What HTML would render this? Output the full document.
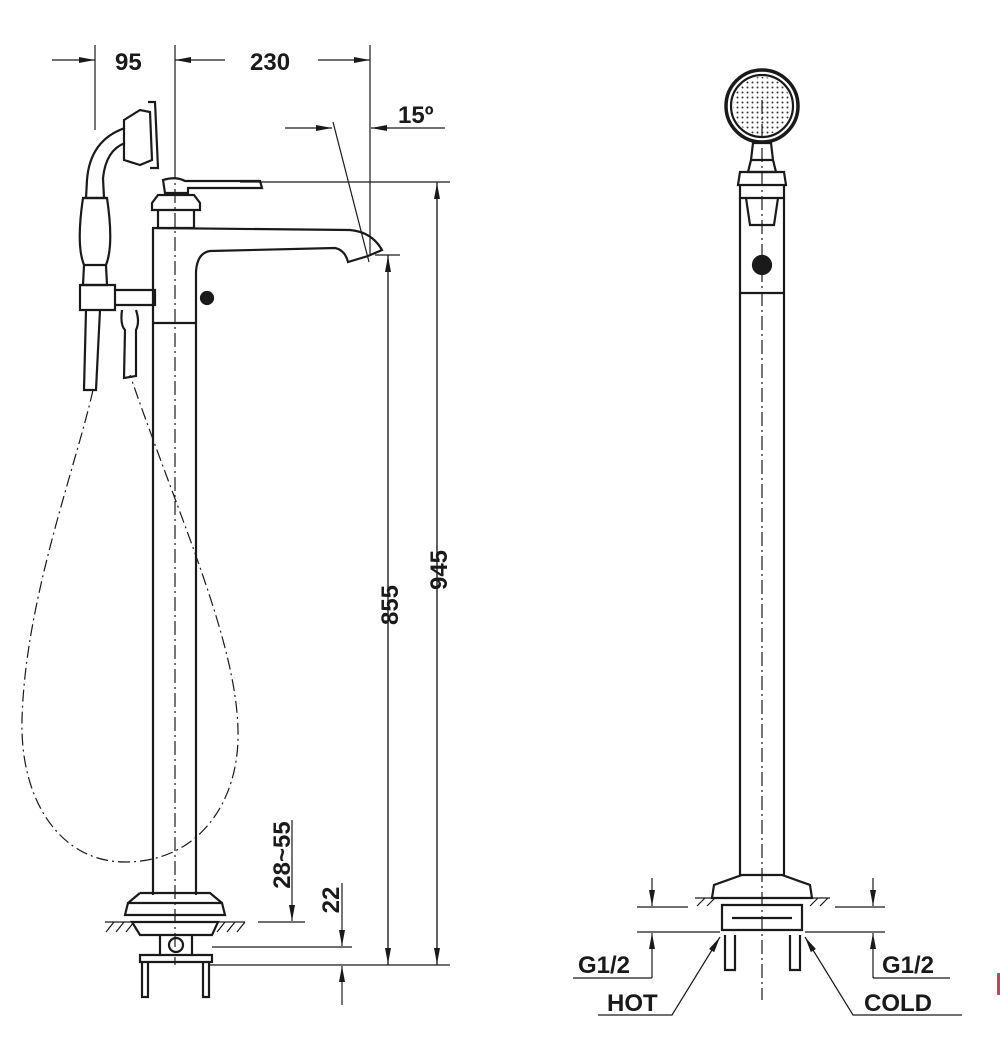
<!DOCTYPE html>
<html><head><meta charset="utf-8"><style>
html,body{margin:0;padding:0;background:#fff}
svg{display:block}
text{font-family:"Liberation Sans",Arial,sans-serif;font-weight:bold;fill:#1a1a1a}
</style></head><body>
<svg width="1000" height="1038" viewBox="0 0 1000 1038" xmlns="http://www.w3.org/2000/svg">
<defs>
<marker id="a" markerWidth="16" markerHeight="8" refX="16" refY="4" orient="auto" markerUnits="userSpaceOnUse"><path d="M0,1 L16,4 L0,7 Z" fill="#1a1a1a"/></marker>
<pattern id="dots" width="5" height="5" patternUnits="userSpaceOnUse"><circle cx="2.5" cy="2.5" r="1" fill="#333"/></pattern>
</defs>
<g stroke="#1a1a1a" fill="none" stroke-width="1.2">
<!-- top dims -->
<line x1="95" y1="45" x2="95" y2="130"/>
<line x1="175" y1="45" x2="175" y2="165"/>
<line x1="370" y1="45" x2="370" y2="255"/>
<line x1="52" y1="60" x2="95" y2="60" marker-end="url(#a)"/>
<line x1="225" y1="60" x2="175" y2="60" marker-end="url(#a)"/>
<line x1="318" y1="60" x2="370" y2="60" marker-end="url(#a)"/>
<line x1="285" y1="128" x2="332" y2="128" marker-end="url(#a)"/>
<line x1="445" y1="128" x2="371" y2="128" marker-end="url(#a)"/>
<line x1="333" y1="122" x2="369" y2="262"/>
<!-- centerline -->
<line x1="175" y1="165" x2="175" y2="965" stroke-dasharray="14,4,2,4"/>
<!-- right dims -->
<line x1="240" y1="182" x2="450" y2="182"/>
<line x1="375" y1="255" x2="400" y2="255"/>
<line x1="210" y1="965" x2="450" y2="965"/>
<line x1="437" y1="965" x2="437" y2="183" marker-end="url(#a)"/>
<line x1="437" y1="182" x2="437" y2="964" marker-end="url(#a)"/>
<line x1="388" y1="965" x2="388" y2="256" marker-end="url(#a)"/>
<line x1="388" y1="255" x2="388" y2="964" marker-end="url(#a)"/>
<line x1="292" y1="820" x2="292" y2="921" marker-end="url(#a)"/>
<line x1="258" y1="922" x2="305" y2="922"/>
<line x1="342" y1="883" x2="342" y2="946" marker-end="url(#a)"/>
<line x1="212" y1="947" x2="352" y2="947"/>
<line x1="342" y1="1005" x2="342" y2="966" marker-end="url(#a)"/>
<!-- faucet -->
<g stroke-width="2.2">
<line x1="153" y1="228" x2="153" y2="895"/>
<line x1="196" y1="272" x2="196" y2="895"/>
<line x1="153" y1="323" x2="196" y2="323"/>
<path d="M152,228 L350,230 Q372,232 382,250 L368,256 L348,262 Q345,250 335,248 L210,251 Q197,253 196,272"/>
<path d="M152,203 L158,195 L194,195 L200,203 L200,210 L152,210 Z M158,210 L194,210 L194,228 L158,228 Z"/>
<path d="M163,180 L165,193 L188,193 L188,188 L262,188 L260,181 L185,181 Q176,176 163,180 Z"/>
<circle cx="207" cy="298" r="6" fill="#1a1a1a"/>
<path d="M128,903 L222,903 L225,915 L125,915 Z M140,893 L210,893 L222,903 M128,903 L140,893"/>
<path d="M132,922 L218,922 L212,935 L140,935 Z"/>
<circle cx="176" cy="945" r="7"/>
<path d="M160,935 L160,955 M192,935 L192,955 M140,955 L212,955 L212,962 L140,962 Z"/>
<path d="M142,962 L142,997 L148,997 L148,962 M203,962 L203,997 L209,997 L209,962"/>
<!-- hand shower -->
<path d="M83,198 Q76,245 84,265 L83,285 L107,285 L106,265 Q114,245 107,198 Z"/>
<line x1="83" y1="198" x2="107" y2="198"/>
<line x1="84" y1="265" x2="106" y2="265"/>
<path d="M86,198 L87,180 Q90,140 125,128 M104,198 L103,178 Q106,150 125,143"/>
<path d="M124,120 L140,110 L150,112 L152,160 L140,165 L124,160 Z M148,102 L155,102 L158,168 L150,168"/>
<path d="M80,285 L115,285 L115,310 L80,310 Z M115,290 L155,290 L155,305 L115,305"/>
<path d="M86,310 L84,390 L96,390 L100,310"/>
<path d="M122,310 Q120,325 125,330 L124,378 L136,376 L136,330 Q140,322 136,310"/>
</g>
<!-- floor hatch -->
<line x1="105" y1="922" x2="245" y2="922"/>
<path d="M106,932 L114,922 M116,932 L124,922 M126,932 L134,922 M217,932 L225,922 M227,932 L235,922 M237,932 L245,922"/>
<!-- hose -->
<path d="M93,390 C75,470 25,600 22,720 C20,800 60,862 125,862 C200,862 240,800 238,730 C236,640 180,520 130,375" stroke-dasharray="12,4,2,4"/>
</g>
<g font-size="24">
<text x="115" y="70">95</text>
<text x="250" y="70">230</text>
<text x="398" y="123">15º</text>
<text transform="translate(447,570) rotate(-90)" text-anchor="middle">945</text>
<text transform="translate(398,605) rotate(-90)" text-anchor="middle">855</text>
<text transform="translate(290,855) rotate(-90)" text-anchor="middle">28~55</text>
<text transform="translate(339,900) rotate(-90)" text-anchor="middle">22</text>
</g>
<!-- right view -->
<g stroke="#1a1a1a" fill="none" stroke-width="1.2">
<circle cx="762" cy="106" r="29" fill="url(#dots)" stroke="none"/>
<line x1="762" y1="100" x2="762" y2="1000" stroke-dasharray="14,4,2,4"/>
<g stroke-width="2.2">
<circle cx="762" cy="106" r="36" stroke-width="3.5"/>
<circle cx="762" cy="106" r="31"/>
<path d="M753,143 L771,143 L773,160 L751,160 Z M751,160 L773,160 L776,172 L748,172 Z"/>
<path d="M740,172 L784,172 L786,185 L738,185 Z M740,185 L784,185 L784,198 L740,198 Z"/>
<path d="M740,198 L740,875 M784,198 L784,875 M740,293 L784,293"/>
<path d="M746,198 L750,225 L774,225 L778,198"/>
<circle cx="762" cy="265" r="9" fill="#1a1a1a"/>
<path d="M742,875 L782,875 L810,885 L812,898 L712,898 L714,885 Z"/>
<path d="M722,905 L802,905 L802,930 L722,930 Z M732,918 L792,918"/>
<path d="M725,935 L725,970 L735,970 L735,935 M790,935 L790,970 L800,970 L800,935"/>
</g>
<line x1="695" y1="898" x2="830" y2="898"/>
<path d="M697,906 L705,898 M707,906 L715,898 M810,906 L818,898 M820,906 L828,898"/>
<line x1="652" y1="878" x2="652" y2="906" marker-end="url(#a)"/>
<line x1="637" y1="907" x2="688" y2="907"/>
<line x1="637" y1="932" x2="720" y2="932"/>
<line x1="652" y1="978" x2="652" y2="933" marker-end="url(#a)"/>
<path d="M652,978 L573,978"/>
<line x1="873" y1="878" x2="873" y2="906" marker-end="url(#a)"/>
<line x1="835" y1="907" x2="885" y2="907"/>
<line x1="805" y1="932" x2="885" y2="932"/>
<line x1="873" y1="978" x2="873" y2="933" marker-end="url(#a)"/>
<path d="M873,978 L950,978"/>
<path d="M598,1015 L672,1015 L720,937" marker-end="url(#a)"/>
<path d="M962,1015 L853,1015 L805,937" marker-end="url(#a)"/>
</g>
<g font-size="24">
<text x="578" y="973">G1/2</text>
<text x="882" y="973">G1/2</text>
<text x="607" y="1011">HOT</text>
<text x="864" y="1011">COLD</text>
</g>
<rect x="997" y="973" width="3" height="22" fill="#d04050"/>
</svg>
</body></html>
